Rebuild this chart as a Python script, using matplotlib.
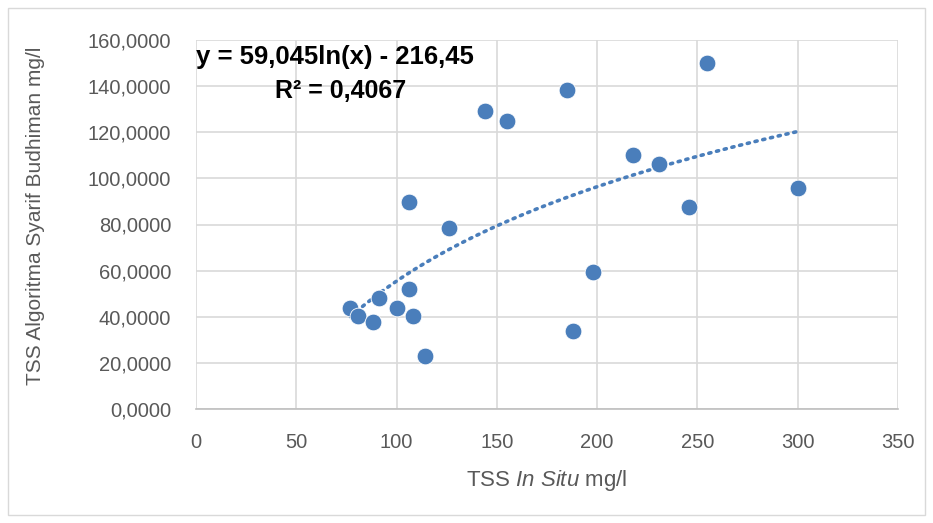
import matplotlib
matplotlib.use('Agg')
import matplotlib.pyplot as plt
from matplotlib.ticker import FuncFormatter
import numpy as np

plt.rcParams['font.family'] = ['Liberation Sans', 'DejaVu Sans']
plt.rcParams['mathtext.fontset'] = 'custom'
plt.rcParams['mathtext.rm'] = 'Liberation Sans'
plt.rcParams['mathtext.it'] = 'Liberation Sans:italic'

# TSS in situ (x) vs TSS Syarif Budhiman algorithm (y), mg/l
tss_in_situ = [77, 81, 88, 91, 100, 106, 106, 108, 114, 126,
               144, 155, 185, 188, 198, 218, 231, 246, 255, 300]
tss_algoritma = [43.8, 40.3, 37.7, 48.1, 43.6, 89.8, 52.0, 40.5, 23.0, 78.5,
                 129.0, 125.0, 138.5, 33.8, 59.4, 110.0, 106.3, 87.4, 150.0, 95.8]

# trendline coefficients as printed on the chart
coef_a = 59.045
coef_b = -216.45
r2 = 0.4067

blue = '#4a7ebb'
grey_text = '#595959'

fig = plt.figure(figsize=(9.33, 5.23), dpi=100)
# chart-area border
fig.patches.append(plt.Rectangle((8 / 933, 8 / 523), 917 / 933, 507 / 523,
                                 transform=fig.transFigure, fill=False,
                                 edgecolor='#d9d9d9', linewidth=1))
ax = fig.add_axes([196 / 933, 1 - 409 / 523, 702 / 933, 369 / 523])

xs = np.linspace(min(tss_in_situ), max(tss_in_situ), 200)
ax.plot(xs, coef_a * np.log(xs) + coef_b, linestyle=(0, (0.6, 1.6)),
        color=blue, linewidth=2.6, dash_capstyle='round', zorder=2)
ax.scatter(tss_in_situ, tss_algoritma, s=145, color=blue, edgecolors='white',
           linewidths=0.6, zorder=3)

ax.set_xlim(0, 350)
ax.set_ylim(0, 160)
ax.set_xticks(np.arange(0, 351, 50))
ax.set_yticks(np.arange(0, 161, 20))
ax.yaxis.set_major_formatter(FuncFormatter(lambda v, p: '{:.4f}'.format(v).replace('.', ',')))
ax.grid(True, color='#d9d9d9', linewidth=1.2)
ax.set_axisbelow(True)
for s in ['top', 'right', 'left']:
    ax.spines[s].set_visible(False)
ax.spines['bottom'].set_color('#bfbfbf')
ax.spines['bottom'].set_linewidth(1.2)
ax.tick_params(length=0, labelsize=14.5, colors=grey_text)
ax.tick_params(axis='x', pad=17)
ax.tick_params(axis='y', pad=18)

ax.set_xlabel('TSS $\\mathit{In\\ Situ}$ mg/l', fontsize=16, color=grey_text, labelpad=12)
ax.set_ylabel('TSS Algoritma Syarif Budhiman mg/l', fontsize=15, color=grey_text)
ax.yaxis.set_label_coords(-0.215, 0.523)

ax.text(0, 152.5, 'y = {:.3f}ln(x) - {:.2f}'.format(coef_a, -coef_b).replace('.', ','),
        fontsize=18.5, fontweight='bold', ha='left', va='center')
ax.text(72, 138, 'R² = {:.4f}'.format(r2).replace('.', ','),
        fontsize=18, fontweight='bold', ha='center', va='center')

fig.savefig('out.png', dpi=100)
